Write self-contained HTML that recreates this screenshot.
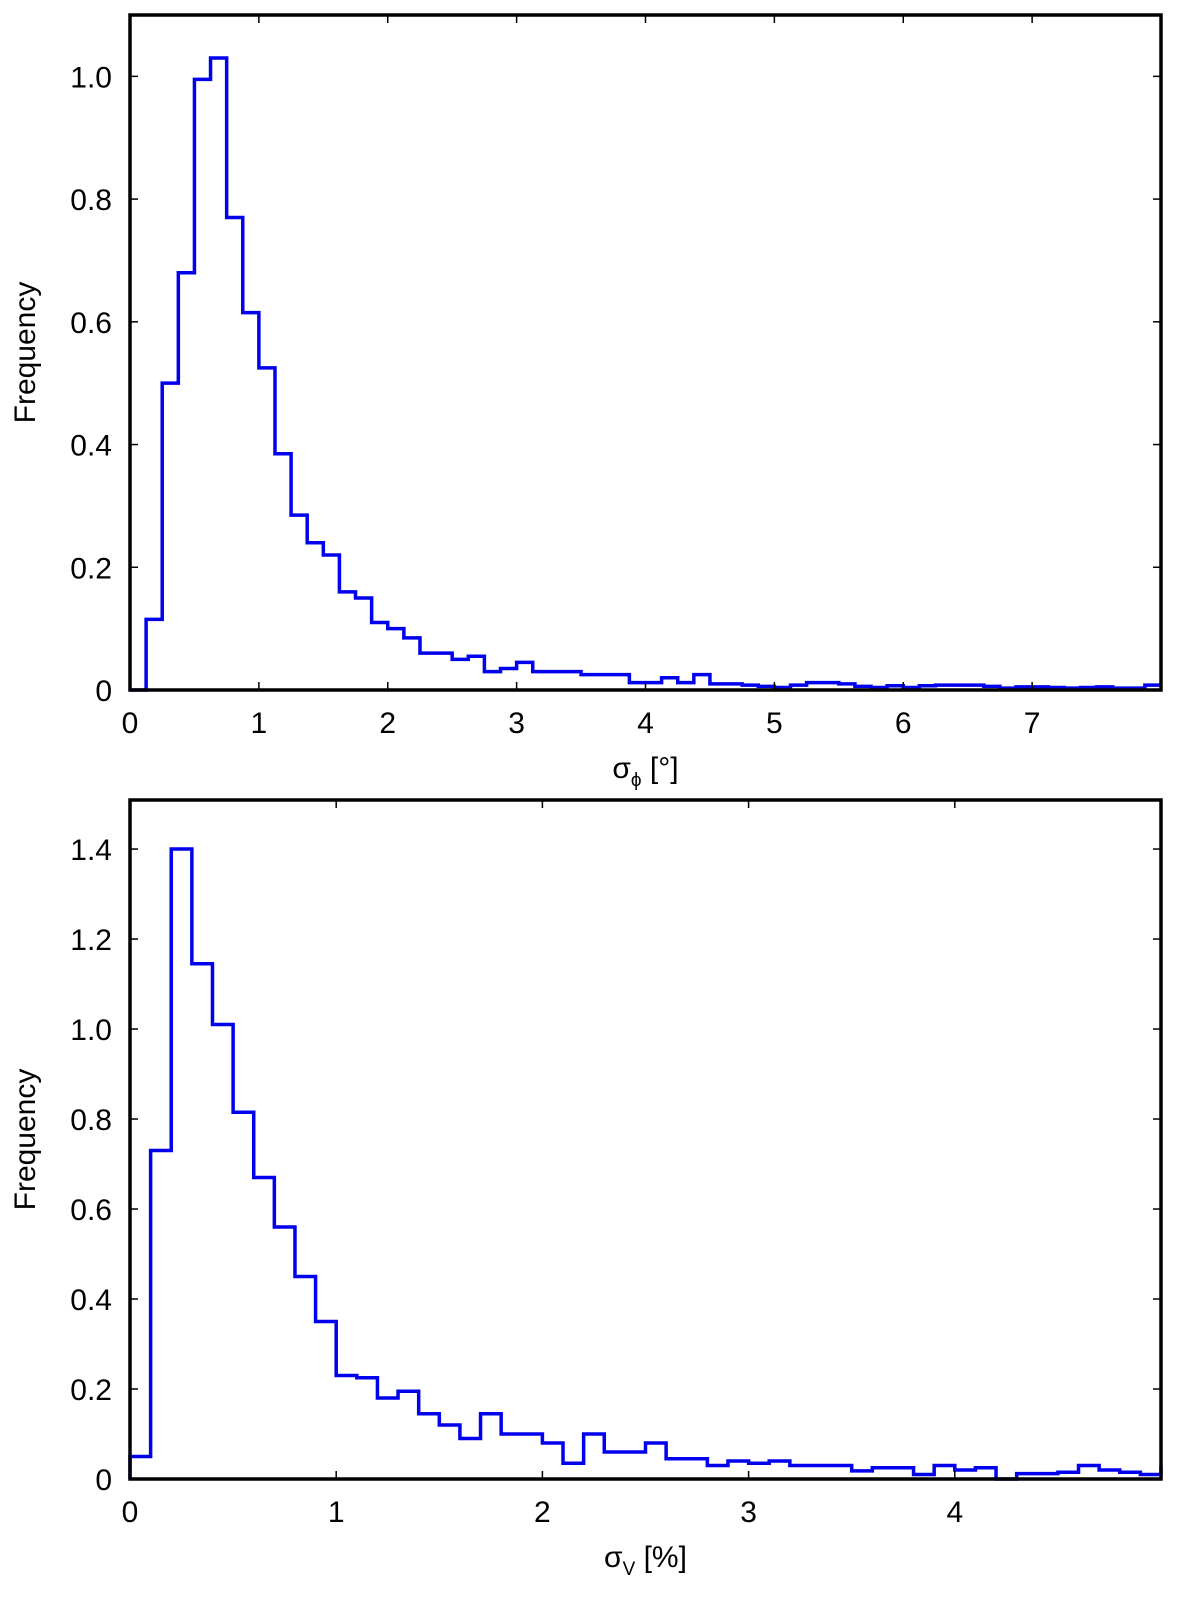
<!DOCTYPE html>
<html><head><meta charset="utf-8"><style>
body{margin:0;background:#fff}
svg text{font-family:"Liberation Sans",sans-serif;fill:#000}
</style></head><body>
<svg id="chart" width="1200" height="1608" viewBox="0 0 1200 1608" xmlns="http://www.w3.org/2000/svg"></svg>
<script>
const topBinWidth = 0.125;
const topValues = [0,0.115,0.5,0.68,0.995,1.03,0.77,0.615,0.525,0.385,0.285,0.24,0.22,0.16,0.15,0.11,0.10,0.085,0.06,0.06,0.05,0.055,0.03,0.035,0.045,0.03,0.03,0.03,0.025,0.025,0.025,0.012,0.012,0.02,0.012,0.025,0.01,0.01,0.008,0.006,0.004,0.008,0.012,0.012,0.01,0.006,0.004,0.007,0.004,0.007,0.008,0.008,0.008,0.006,0.003,0.005,0.005,0.004,0.003,0.004,0.005,0.003,0.003,0.008];
const topXTicks = [0,1,2,3,4,5,6,7];
const topYTicks = [0,0.2,0.4,0.6,0.8,1.0];
const botBinWidth = 0.1;
const botValues = [0.05,0.73,1.4,1.145,1.01,0.815,0.67,0.56,0.45,0.35,0.23,0.225,0.18,0.195,0.145,0.12,0.09,0.145,0.1,0.1,0.08,0.035,0.1,0.06,0.06,0.08,0.045,0.045,0.03,0.04,0.035,0.04,0.03,0.03,0.03,0.018,0.025,0.025,0.01,0.03,0.02,0.025,0.0,0.012,0.012,0.015,0.03,0.02,0.015,0.01,0.03];
const botXTicks = [0,1,2,3,4];
const botYTicks = [0,0.2,0.4,0.6,0.8,1.0,1.2,1.4];

const NS="http://www.w3.org/2000/svg";
const svg=document.getElementById('chart');
function mk(tag,attrs,parent){const e=document.createElementNS(NS,tag);for(const k in attrs)e.setAttribute(k,attrs[k]);(parent||svg).appendChild(e);return e;}

function panel(o){
  const g=mk('g',{});
  
  
  const sx=v=>o.x0+(v-o.xmin)/(o.xmax-o.xmin)*(o.x1-o.x0);
  const sy=v=>o.y0-(v-o.ymin)/(o.ymax-o.ymin)*(o.y0-o.y1);
  let d='M'+sx(0)+','+sy(0);
  o.values.forEach((v,i)=>{const a=i*o.bw,b=(i+1)*o.bw;d+=' L'+sx(a)+','+sy(v)+' L'+Math.min(sx(b),o.x1)+','+sy(v);});
  const p=mk('path',{d:d,fill:'none',stroke:'#0000ee','stroke-width':3.5},g);
  
  
  o.xt.forEach(t=>{
    const x=sx(t);
    mk('line',{x1:x,x2:x,y1:o.y0,y2:o.y0-8,stroke:'#000','stroke-width':1.5},g);
    mk('line',{x1:x,x2:x,y1:o.y1,y2:o.y1+8,stroke:'#000','stroke-width':1.5},g);
    const tx=mk('text',{x:x,y:o.y0+43,'font-size':30,'text-anchor':'middle'},g);
    tx.textContent=String(t);
    
    
  });
  o.yt.forEach(t=>{
    const y=sy(t);
    mk('line',{x1:o.x0,x2:o.x0+8,y1:y,y2:y,stroke:'#000','stroke-width':1.5},g);
    mk('line',{x1:o.x1,x2:o.x1-8,y1:y,y2:y,stroke:'#000','stroke-width':1.5},g);
    const tx=mk('text',{x:o.x0-18,y:y+11,'font-size':30,'text-anchor':'end'},g);
    tx.textContent=t===0?'0':t.toFixed(1);
    
    
  });
  const fr=mk('rect',{x:o.x0,y:o.y1,width:o.x1-o.x0,height:o.y0-o.y1,fill:'none',stroke:'#000','stroke-width':3.5},g);
  
  
  const yl=mk('text',{x:0,y:0,'font-size':30,'text-anchor':'middle',transform:'translate(35,'+((o.y0+o.y1)/2)+') rotate(-90)'},g);
  yl.textContent='Frequency';
  
  
  const xl=mk('text',{x:(o.x0+o.x1)/2,y:o.y0+88,'font-size':30,'text-anchor':'middle'},g);
  xl.innerHTML='σ<tspan font-size="19" dy="8">'+o.sub+'</tspan><tspan dy="-8"> '+o.unit+'</tspan>';
  
  
}
panel({name:'top-panel',x0:130,x1:1161,y0:690,y1:15,xmin:0,xmax:8,ymin:0,ymax:1.1,values:topValues,bw:topBinWidth,xt:topXTicks,yt:topYTicks,sub:'ϕ',unit:'[°]'});
panel({name:'bottom-panel',x0:130,x1:1161,y0:1479,y1:800,xmin:0,xmax:5,ymin:0,ymax:1.509,values:botValues,bw:botBinWidth,xt:botXTicks,yt:botYTicks,sub:'V',unit:'[%]'});
</script>
</body></html>
